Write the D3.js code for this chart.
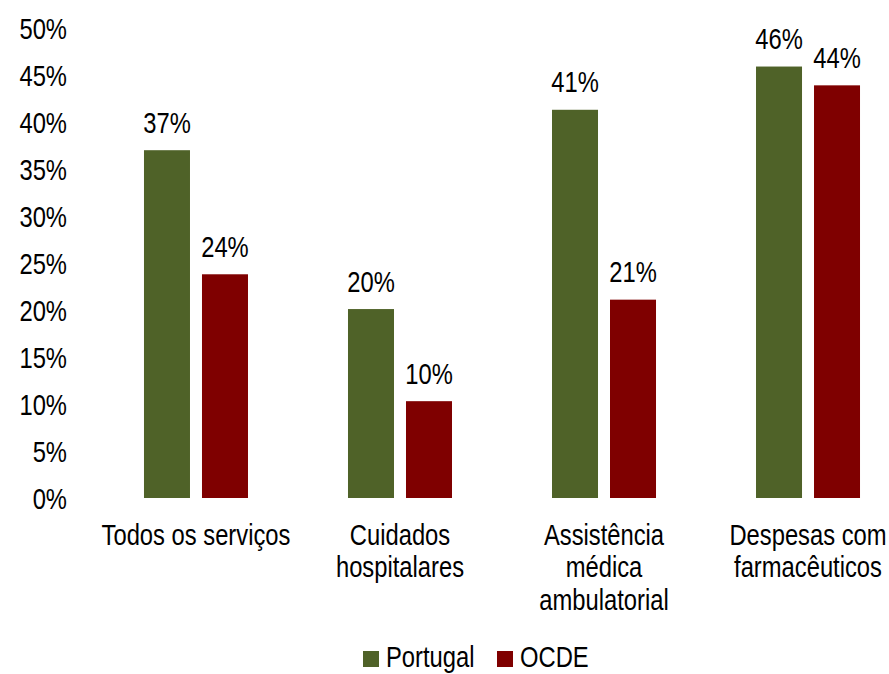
<!DOCTYPE html>
<html>

<head>
  <meta charset="utf-8" />
  <title>Portugal vs OCDE</title>
  <style>
    body {
      margin: 0;
      background: #fff;
    }

    text {
      font-family: "Liberation Sans", Arial, sans-serif;
      font-size: 29px;
      fill: #000;
    }
  </style>
  <script src="https://cdnjs.cloudflare.com/ajax/libs/d3/7.8.5/d3.min.js"></script>
</head>

<body>
  <div id="chartArea"></div>
  <script>
    // data
    var categories = ['Todos os serviços', 'Cuidados hospitalares', 'Assistência médica ambulatorial', 'Despesas com farmacêuticos'];
    var categoryLines = [['Todos os serviços'], ['Cuidados', 'hospitalares'], ['Assistência', 'médica', 'ambulatorial'], ['Despesas com', 'farmacêuticos']];
    var seriesNames = ['Portugal', 'OCDE'];
    var portugal = [37.0, 20.1, 41.3, 45.9];
    var ocde = [23.8, 10.3, 21.1, 43.9];
    var yTicks = [0, 5, 10, 15, 20, 25, 30, 35, 40, 45, 50];
    var colors = ['#4f6228', '#7f0000'];

    // no narrow font installed, so squeeze the text horizontally
    var SQ = 0.82;
    var nx = v => v / SQ;

    var W = 889, H = 674;
    var svg = d3.select('#chartArea')
      .append('svg')
      .attr('width', W)
      .attr('height', H);

    var y = d3.scaleLinear().domain([0, 50]).range([498, 28]);

    var x0 = d3.scaleBand()
      .domain(categories)
      .range([94, 910])
      .paddingInner(100 / 204)
      .paddingOuter(0.245);

    var x1 = d3.scaleBand()
      .domain(seriesNames)
      .range([0, x0.bandwidth()])
      .paddingInner(12 / 58);

    // y axis labels (no line, no ticks)
    var yAxis = d3.axisLeft(y)
      .tickValues(yTicks)
      .tickFormat(d => d + '%')
      .tickSize(0)
      .tickPadding(0);

    var gy = svg.append('g')
      .attr('transform', 'scale(' + SQ + ',1) translate(' + nx(67) + ',0)')
      .call(yAxis);
    gy.select('.domain').remove();
    gy.selectAll('text')
      .attr('font-size', null)
      .attr('font-family', null)
      .attr('dy', '0.36em');

    var rows = categories.map((c, i) => ({
      cat: c,
      vals: [portugal[i], ocde[i]]
    }));

    var groups = svg.append('g')
      .selectAll('g')
      .data(rows)
      .join('g')
      .attr('transform', d => 'translate(' + x0(d.cat) + ',0)');

    groups.selectAll('rect')
      .data(d => d.vals.map((v, j) => ({ name: seriesNames[j], v: v, j: j })))
      .join('rect')
      .attr('x', d => x1(d.name))
      .attr('y', d => y(d.v))
      .attr('width', x1.bandwidth())
      .attr('height', d => y(0) - y(d.v))
      .attr('fill', d => colors[d.j]);

    // all texts live in a squeezed layer
    var tl = svg.append('g').attr('transform', 'scale(' + SQ + ',1)');

    var labels = [];
    rows.forEach(r => r.vals.forEach((v, j) => labels.push({ cat: r.cat, name: seriesNames[j], v: v })));

    tl.selectAll('text.val')
      .data(labels)
      .join('text')
      .attr('class', 'val')
      .attr('x', d => nx(x0(d.cat) + x1(d.name) + x1.bandwidth() / 2))
      .attr('y', d => y(d.v) - 17.5)
      .attr('text-anchor', 'middle')
      .text(d => Math.round(d.v) + '%');

    // category labels
    categories.forEach((c, i) => {
      var cx = nx(x0(c) + x0.bandwidth() / 2);
      var t = tl.append('text')
        .attr('x', cx)
        .attr('y', 545)
        .attr('text-anchor', 'middle');
      categoryLines[i].forEach((line, k) => {
        t.append('tspan')
          .attr('x', cx)
          .attr('dy', k === 0 ? 0 : 32.5)
          .text(line);
      });
    });

    // legend
    var legendX = [363, 497];
    seriesNames.forEach((s, i) => {
      svg.append('rect')
        .attr('x', legendX[i])
        .attr('y', 651)
        .attr('width', 16)
        .attr('height', 16)
        .attr('fill', colors[i]);
      tl.append('text')
        .attr('x', nx(legendX[i] + 23))
        .attr('y', 667)
        .text(s);
    });
  </script>
</body>

</html>
